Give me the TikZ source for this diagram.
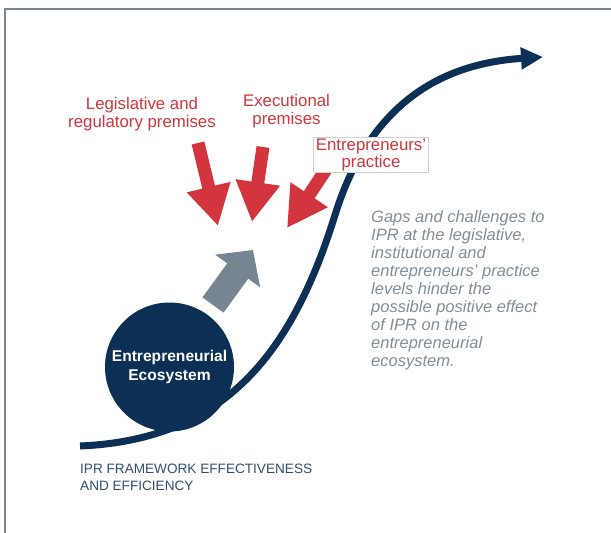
\documentclass[tikz,border=0pt]{standalone}
\usepackage{fontspec}
\setmainfont{Liberation Sans}
\usetikzlibrary{arrows.meta}

\definecolor{navy}{HTML}{0C2F55}
\definecolor{premred}{HTML}{D2353D}
\definecolor{slate}{HTML}{778592}
\definecolor{notegray}{HTML}{828D98}

\tikzset{
  premise/.style = {text=premred, font=\fontsize{16.8}{18.5}\selectfont, align=center},
  push/.style    = {premred, line width=13, -{Triangle[length=40pt,width=42pt]}},
  lift/.style    = {slate, line width=26, -{Triangle[length=26pt,width=54pt]}},
  growth/.style  = {navy, line width=7, -{Triangle[length=22pt,width=21pt]}}
}

\begin{document}
\begin{tikzpicture}[x=1pt, y=-1pt]
\useasboundingbox (0,0) rectangle (611,533);

% frame on the left and top
\draw [slate, line width=2] (5,533) -- (5,9) -- (611,9);

% S-shaped growth curve
\coordinate (low) at (80,446);
\coordinate (high) at (543,57);
\draw [growth] (low) .. controls (220,440) and (290,360) .. (335,215)
  .. controls (372,96) and (450,63) .. (high);

% the ecosystem ball sitting on the curve
\node [circle, fill=navy, minimum size=129, inner sep=0, text=white,
  font=\fontsize{15.6}{19}\selectfont\bfseries, align=center]
  (eco) at (169.5,367) {Entrepreneurial\\Ecosystem};

% upward push of the ball
\coordinate (lift0) at (213,305);
\coordinate (lift1) at (253,250);
\draw [lift] (lift0) -- (lift1);

% premises pressing down
\coordinate (leg0) at (198,143);
\coordinate (leg1) at (218,226);
\coordinate (exe0) at (263,147);
\coordinate (exe1) at (252,222);
\coordinate (pra0) at (329,165);
\coordinate (pra1) at (287,228);
\draw [push] (leg0) -- (leg1);
\draw [push] (exe0) -- (exe1);
\draw [push] (pra0) -- (pra1);

\node [premise] (legal) at (142,114) {Legislative and\\regulatory premises};
\node [premise] (exec) at (286.5,111) {Executional\\premises};
\node [premise, fill=white, draw=gray!35, line width=0.8, inner xsep=2.5,
  inner ysep=1.5, font=\fontsize{16.8}{17}\selectfont]
  (practice) at (371,155) {Entrepreneurs’\\practice};

% explanation on the right
\node [anchor=north west, inner sep=0, align=left, text=notegray,
  font=\fontsize{16.5}{18}\selectfont\itshape] (note) at (371,210)
  {Gaps and challenges to\\IPR at the legislative,\\institutional and\\
   entrepreneurs’ practice\\levels hinder the\\possible positive effect\\
   of IPR on the\\entrepreneurial\\ecosystem.};

% axis caption
\node [anchor=north west, inner sep=0, align=left, text=navy!85,
  font=\fontsize{13.6}{17}\selectfont] (axis) at (80,464)
  {IPR FRAMEWORK EFFECTIVENESS\\AND EFFICIENCY};
\end{tikzpicture}
\end{document}
